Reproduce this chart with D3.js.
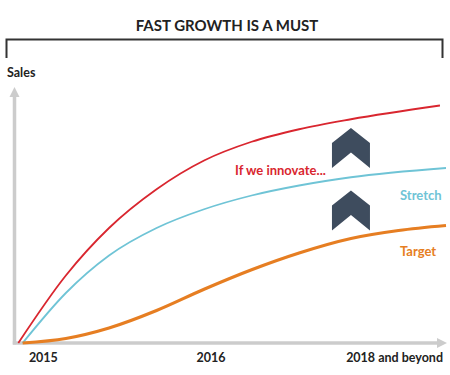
<!DOCTYPE html>
<html>
<head>
<meta charset="utf-8">
<script src="https://cdn.jsdelivr.net/npm/d3@7"></script>
<style>
  body { margin: 0; background: #fff; }
  svg { display: block; font-family: Lato, "Open Sans", sans-serif; }
</style>
</head>
<body>
<div id="chart"><svg></svg></div>
<script>
// progress along the x axis (0-100) and sales index (0-100)
const ifWeInnovate = [[1, 0], [12, 27], [22, 46], [33, 61.5], [44, 73], [55, 80.5], [66, 85.5], [78, 89.5], [98.6, 95]];
const stretch = [[2, 0], [12, 20], [22, 35], [33, 46], [44, 53.5], [55, 59], [66, 63], [78, 66.3], [100, 70]];
const target = [[2, 0], [12, 1.8], [22, 6], [33, 13], [44, 21.5], [55, 29.3], [66, 36], [78, 41.8], [89, 45], [100, 47]];

const tickLabels = ["2015", "2016", "2018 and beyond"];
const tickValues = [6.8, 45.6, 100];

const seriesNames = ["If we innovate...", "Stretch", "Target"];
const chevrons = [[78, 86], [78, 61]];

document.addEventListener("DOMContentLoaded", function () {
  const width = 450,
    height = 375;

  const svg = d3
    .select("#chart svg")
    .attr("width", width)
    .attr("height", height);

  const x = d3.scaleLinear().domain([0, 100]).range([14, 446]);
  const y = d3.scaleLinear().domain([0, 100]).range([343, 93]);

  // title + bracket
  svg
    .append("text")
    .attr("x", 227)
    .attr("y", 31)
    .attr("text-anchor", "middle")
    .style("font-size", "15px")
    .style("font-weight", "bold")
    .style("fill", "#222")
    .text("FAST GROWTH IS A MUST");

  svg
    .append("path")
    .attr("d", "M6.5,58V39.5H442.5V58")
    .style("fill", "none")
    .style("stroke", "#333")
    .style("stroke-width", 2);

  svg
    .append("text")
    .attr("x", 7)
    .attr("y", 77)
    .style("font-size", "12.5px")
    .style("font-weight", "bold")
    .style("fill", "#222")
    .text("Sales");

  // axes with arrow heads
  const axisColor = "#cccccc";
  svg
    .append("line")
    .attr("x1", x(0) + 0.5)
    .attr("x2", x(0) + 0.5)
    .attr("y1", y(0) + 1.5)
    .attr("y2", 95)
    .style("stroke", axisColor)
    .style("stroke-width", 3.5);
  svg
    .append("path")
    .attr("d", `M${x(0) + 0.5},87L${x(0) + 5.5},97H${x(0) - 4.5}Z`)
    .style("fill", axisColor);
  svg
    .append("line")
    .attr("x1", x(0) - 1.2)
    .attr("x2", 438)
    .attr("y1", y(0))
    .attr("y2", y(0))
    .style("stroke", axisColor)
    .style("stroke-width", 3.5);
  svg
    .append("path")
    .attr("d", `M447,${y(0)}L437,${y(0) - 5}V${y(0) + 5}Z`)
    .style("fill", axisColor);

  svg
    .selectAll(".tick-label")
    .data(tickLabels)
    .enter()
    .append("text")
    .attr("class", "tick-label")
    .attr("x", (d, i) => (i === tickLabels.length - 1 ? 443 : x(tickValues[i])))
    .attr("y", 362)
    .attr("text-anchor", (d, i) => (i === tickLabels.length - 1 ? "end" : "middle"))
    .style("font-size", "12.5px")
    .style("font-weight", "bold")
    .style("fill", "#222")
    .text((d) => d);

  const line = d3
    .line()
    .x((d) => x(d[0]))
    .y((d) => y(d[1]))
    .curve(d3.curveMonotoneX);

  const series = [
    { name: seriesNames[0], values: ifWeInnovate, color: "#d9262f", w: 1.8 },
    { name: seriesNames[1], values: stretch, color: "#6fc4d6", w: 1.8 },
    { name: seriesNames[2], values: target, color: "#e67e22", w: 3.2 },
  ];

  svg
    .selectAll(".line")
    .data(series)
    .enter()
    .append("path")
    .attr("class", "line")
    .attr("d", (d) => line(d.values))
    .style("fill", "none")
    .style("stroke", (d) => d.color)
    .style("stroke-width", (d) => d.w);

  // series labels
  const labelPos = [[235, 175], [400, 200], [400, 256]];
  svg
    .selectAll(".series-label")
    .data(series)
    .enter()
    .append("text")
    .attr("class", "series-label")
    .attr("x", (d, i) => labelPos[i][0])
    .attr("y", (d, i) => labelPos[i][1])
    .style("font-size", "13px")
    .style("font-weight", "bold")
    .style("fill", (d) => d.color)
    .text((d) => d.name);

  // up chevrons between the curves
  svg
    .selectAll(".chevron")
    .data(chevrons)
    .enter()
    .append("path")
    .attr("class", "chevron")
    .attr("transform", (d) => `translate(${x(d[0])},${y(d[1])})`)
    .attr("d", "M0,0L19,15V40L0,24.5L-19,40V15Z")
    .style("fill", "#3e4c5e");
});
</script>
</body>
</html>
